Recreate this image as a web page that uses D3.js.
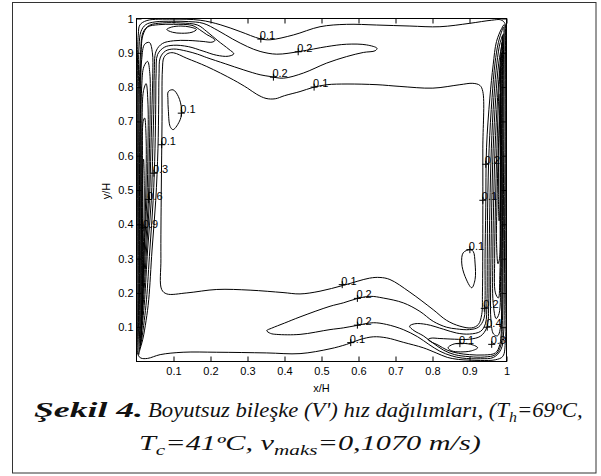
<!DOCTYPE html>
<html><head><meta charset="utf-8">
<script src="https://cdn.jsdelivr.net/npm/d3@7"></script>
<style>body{margin:0;background:#fff}svg{display:block}</style>
</head><body>
<svg id="c" width="601" height="476"></svg>
<script>
// ---------- tick labels ----------
const xTicks = [0.1,0.2,0.3,0.4,0.5,0.6,0.7,0.8,0.9,1];
const yTicks = [0.1,0.2,0.3,0.4,0.5,0.6,0.7,0.8,0.9,1];

// ---------- contour lines, in (x/H, y/H) ----------
const outer01 = [[0.003,0.9],[0.005,0.955],[0.009,0.981],[0.028,0.994],[0.099,0.998],[0.172,0.995],[0.226,0.982],[0.28,0.962],[0.334,0.941],[0.361,0.938],[0.424,0.952],[0.496,0.976],[0.568,0.983],[0.649,0.981],[0.739,0.978],[0.82,0.976],[0.901,0.986],[0.96,0.995],[0.985,0.996],[0.996,0.985],[0.997,0.95],[0.998,0.8],[0.998,0.5],[0.998,0.2],[0.997,0.06],[0.99,0.015],[0.97,0.005],[0.93,0.003],[0.9,0.004],[0.87,0.006],[0.84,0.012],[0.81,0.025],[0.775,0.04],[0.721,0.056],[0.676,0.069],[0.64,0.072],[0.604,0.064],[0.568,0.05],[0.523,0.037],[0.442,0.023],[0.352,0.025],[0.217,0.027],[0.126,0.027],[0.064,0.02],[0.03,0.009],[0.012,0.01],[0.004,0.02],[0.002,0.1],[0.002,0.5]];
const core01 = [[0.07,0.85],[0.074,0.886],[0.085,0.898],[0.1,0.9],[0.136,0.884],[0.19,0.86],[0.262,0.821],[0.3,0.797],[0.325,0.779],[0.35,0.767],[0.375,0.766],[0.4,0.775],[0.442,0.787],[0.477,0.799],[0.515,0.807],[0.569,0.809],[0.65,0.807],[0.712,0.802],[0.801,0.797],[0.874,0.807],[0.909,0.811],[0.928,0.805],[0.936,0.787],[0.936,0.62],[0.936,0.4],[0.935,0.2],[0.933,0.137],[0.924,0.108],[0.906,0.098],[0.874,0.103],[0.838,0.12],[0.802,0.151],[0.739,0.202],[0.685,0.239],[0.658,0.245],[0.63,0.243],[0.559,0.222],[0.496,0.205],[0.442,0.197],[0.396,0.201],[0.307,0.208],[0.217,0.21],[0.136,0.2],[0.082,0.197],[0.068,0.21],[0.066,0.3],[0.067,0.5],[0.069,0.7]];
const left02 = [[0.006,0.02],[0.008,0.03],[0.017,0.065],[0.026,0.12],[0.033,0.18],[0.042,0.325],[0.052,0.47],[0.058,0.62],[0.06,0.75],[0.061,0.84],[0.064,0.885],[0.078,0.905],[0.1,0.911],[0.135,0.905],[0.165,0.896],[0.19,0.886],[0.24,0.868],[0.29,0.85],[0.334,0.836],[0.361,0.831],[0.397,0.826],[0.451,0.841],[0.514,0.87],[0.568,0.889],[0.613,0.901],[0.645,0.906],[0.65,0.913],[0.622,0.923],[0.568,0.925],[0.514,0.918],[0.442,0.904],[0.379,0.896],[0.334,0.904],[0.3,0.918],[0.26,0.94],[0.22,0.965],[0.18,0.986],[0.14,0.991],[0.1,0.992],[0.05,0.99],[0.025,0.982],[0.012,0.962],[0.007,0.92],[0.005,0.8],[0.004,0.6],[0.004,0.35],[0.004,0.12],[0.004,0.04]];
const left03 = [[0.008,0.035],[0.01,0.045],[0.014,0.065],[0.021,0.12],[0.027,0.18],[0.036,0.325],[0.045,0.47],[0.05,0.62],[0.052,0.75],[0.053,0.84],[0.057,0.895],[0.075,0.916],[0.1,0.922],[0.14,0.918],[0.18,0.905],[0.216,0.893],[0.248,0.89],[0.263,0.897],[0.25,0.91],[0.22,0.935],[0.19,0.962],[0.165,0.981],[0.12,0.987],[0.07,0.987],[0.035,0.98],[0.018,0.96],[0.011,0.9],[0.007,0.75],[0.006,0.5],[0.006,0.25],[0.006,0.08]];
const left04 = [[0.01,0.045],[0.012,0.065],[0.017,0.12],[0.022,0.18],[0.03,0.325],[0.04,0.47],[0.044,0.62],[0.047,0.75],[0.048,0.84],[0.053,0.905],[0.07,0.927],[0.1,0.935],[0.14,0.936],[0.18,0.933],[0.204,0.931],[0.212,0.936],[0.205,0.944],[0.19,0.953],[0.17,0.968],[0.15,0.98],[0.1,0.983],[0.06,0.982],[0.03,0.975],[0.017,0.95],[0.012,0.88],[0.009,0.7],[0.008,0.45],[0.008,0.2],[0.008,0.08]];
const left05 = [[0.011,0.05],[0.012,0.065],[0.015,0.12],[0.019,0.18],[0.027,0.325],[0.035,0.47],[0.039,0.62],[0.042,0.75],[0.044,0.84],[0.043,0.9],[0.035,0.93],[0.022,0.925],[0.014,0.88],[0.011,0.75],[0.01,0.5],[0.01,0.25],[0.01,0.1]];
const left06 = [[0.012,0.07],[0.014,0.12],[0.017,0.18],[0.024,0.325],[0.032,0.47],[0.035,0.62],[0.037,0.75],[0.036,0.84],[0.03,0.875],[0.02,0.86],[0.014,0.8],[0.012,0.6],[0.012,0.35],[0.012,0.15]];
const left07 = [[0.013,0.1],[0.016,0.18],[0.021,0.325],[0.028,0.47],[0.031,0.62],[0.031,0.75],[0.026,0.81],[0.019,0.79],[0.015,0.7],[0.014,0.5],[0.013,0.3],[0.013,0.15]];
const left08 = [[0.015,0.14],[0.018,0.25],[0.023,0.4],[0.026,0.55],[0.026,0.65],[0.022,0.71],[0.018,0.7],[0.016,0.6],[0.015,0.45],[0.015,0.25]];
const left09 = [[0.016,0.22],[0.018,0.3],[0.02,0.4],[0.021,0.5],[0.019,0.59],[0.017,0.57],[0.0165,0.45],[0.016,0.32]];
const eyeTopLeft = [[0.082,0.968],[0.095,0.975],[0.12,0.978],[0.145,0.975],[0.162,0.968],[0.15,0.96],[0.122,0.957],[0.097,0.96]];
const loopLeft = [[0.086,0.787],[0.099,0.792],[0.113,0.773],[0.122,0.734],[0.118,0.705],[0.099,0.676],[0.091,0.685],[0.086,0.734],[0.085,0.763]];
const right02 = [[0.994,0.982],[0.987,0.971],[0.973,0.933],[0.964,0.865],[0.955,0.768],[0.946,0.623],[0.944,0.45],[0.942,0.3],[0.942,0.18],[0.939,0.125],[0.924,0.1],[0.9,0.093],[0.865,0.095],[0.838,0.1],[0.802,0.117],[0.766,0.146],[0.721,0.171],[0.667,0.185],[0.631,0.19],[0.595,0.183],[0.559,0.171],[0.523,0.161],[0.442,0.13],[0.4,0.112],[0.365,0.097],[0.352,0.09],[0.362,0.082],[0.379,0.079],[0.442,0.079],[0.523,0.093],[0.559,0.098],[0.595,0.105],[0.64,0.113],[0.676,0.108],[0.721,0.093],[0.76,0.072],[0.79,0.05],[0.82,0.03],[0.85,0.017],[0.88,0.01],[0.93,0.008],[0.965,0.012],[0.985,0.035],[0.992,0.08],[0.994,0.2],[0.995,0.45],[0.996,0.7],[0.996,0.88],[0.996,0.96]];
const right03 = [[0.992,0.975],[0.988,0.965],[0.978,0.93],[0.969,0.87],[0.961,0.77],[0.953,0.62],[0.949,0.45],[0.948,0.3],[0.947,0.17],[0.943,0.11],[0.93,0.088],[0.9,0.08],[0.865,0.083],[0.83,0.094],[0.784,0.108],[0.752,0.11],[0.738,0.103],[0.75,0.09],[0.775,0.075],[0.8,0.055],[0.83,0.033],[0.86,0.02],[0.9,0.014],[0.94,0.013],[0.97,0.02],[0.984,0.045],[0.989,0.12],[0.991,0.3],[0.992,0.55],[0.993,0.8],[0.993,0.93]];
const right04 = [[0.992,0.955],[0.983,0.93],[0.974,0.87],[0.966,0.77],[0.959,0.62],[0.955,0.45],[0.953,0.3],[0.952,0.17],[0.947,0.1],[0.93,0.074],[0.9,0.065],[0.86,0.065],[0.82,0.067],[0.796,0.068],[0.788,0.064],[0.795,0.058],[0.815,0.048],[0.84,0.033],[0.87,0.024],[0.9,0.02],[0.94,0.019],[0.97,0.025],[0.982,0.05],[0.987,0.15],[0.989,0.35],[0.99,0.6],[0.991,0.8],[0.992,0.92]];
const right05 = [[0.989,0.95],[0.988,0.93],[0.979,0.87],[0.971,0.77],[0.964,0.62],[0.96,0.45],[0.958,0.3],[0.957,0.2],[0.958,0.12],[0.965,0.08],[0.976,0.075],[0.985,0.11],[0.987,0.3],[0.988,0.55],[0.989,0.8]];
const right06 = [[0.988,0.93],[0.983,0.87],[0.976,0.77],[0.969,0.62],[0.965,0.45],[0.963,0.3],[0.964,0.17],[0.972,0.125],[0.98,0.14],[0.984,0.25],[0.986,0.5],[0.987,0.75],[0.988,0.88]];
const right07 = [[0.986,0.9],[0.98,0.8],[0.974,0.62],[0.97,0.45],[0.968,0.3],[0.97,0.2],[0.978,0.185],[0.982,0.25],[0.984,0.5],[0.985,0.75]];
const right08 = [[0.984,0.86],[0.983,0.77],[0.978,0.62],[0.974,0.45],[0.973,0.35],[0.977,0.285],[0.981,0.3],[0.983,0.45],[0.984,0.65],[0.984,0.8]];
const right09 = [[0.983,0.78],[0.981,0.7],[0.979,0.6],[0.978,0.5],[0.98,0.41],[0.982,0.43],[0.983,0.55],[0.9835,0.68]];
const eyeBottomRight = [[0.842,0.04],[0.855,0.05],[0.88,0.053],[0.91,0.048],[0.922,0.04],[0.905,0.031],[0.875,0.028],[0.852,0.031]];
const loopRight = [[0.901,0.326],[0.883,0.317],[0.879,0.287],[0.888,0.248],[0.906,0.215],[0.915,0.239],[0.915,0.287],[0.91,0.321]];

const contourLines = [outer01, core01, left02, left03, left04, left05, left06, left07, left08, left09,
  eyeTopLeft, loopLeft, right02, right03, right04, right05, right06, right07, right08, right09,
  eyeBottomRight, loopRight];

// contour labels: position of the "+" marker and the level text
const labelX    = [0.336,0.437,0.370,0.480,0.121,0.068,0.047,0.032,0.020,0.944,0.936,0.901,0.556,0.597,0.597,0.579,0.940,0.948,0.874,0.960];
const labelY    = [0.940,0.903,0.829,0.800,0.724,0.632,0.549,0.472,0.390,0.575,0.470,0.326,0.224,0.184,0.106,0.055,0.155,0.100,0.052,0.050];
const labelText = ["0.1","0.2","0.2","0.1","0.1","0.1","0.3","0.6","0.9","0.2","0.1","0.1","0.1","0.2","0.2","0.1","0.2","0.4","0.1","0.3"];

// ---------- drawing ----------
const SANS = "'Liberation Sans', Arial, sans-serif";
const SERIF = "'Liberation Serif', 'Times New Roman', serif";
const svg = d3.select('#c');
const L = 136.5, R = 506.5, T = 18.5, B = 361.5;
const x = d3.scaleLinear().domain([0,1]).range([L,R]);
const y = d3.scaleLinear().domain([0,1]).range([B,T]);

svg.append('rect').attr('x',12.5).attr('y',2.5).attr('width',583.5).attr('height',470.5)
  .attr('fill','none').attr('stroke','#333').attr('stroke-width',1);

svg.append('clipPath').attr('id','pc').append('rect')
  .attr('x',L).attr('y',T).attr('width',R-L).attr('height',B-T);

const line = d3.line().x(d=>x(d[0])).y(d=>y(d[1])).curve(d3.curveCatmullRomClosed.alpha(0.5));
svg.append('g').attr('clip-path','url(#pc)')
  .selectAll('path').data(contourLines).join('path')
  .attr('d',line).attr('fill','none').attr('stroke','#000').attr('stroke-width',1);

// labels
const lg = svg.append('g');
labelText.forEach((t,i)=>{
  const cx = x(labelX[i]), cy = y(labelY[i]);
  lg.append('path').attr('d',`M${cx-3.5},${cy}H${cx+3.5}M${cx},${cy-3.5}V${cy+3.5}`)
    .attr('stroke','#000').attr('stroke-width',1);
  lg.append('text').attr('x',cx-1).attr('y',cy).text(t)
    .attr('font-family',SANS).attr('font-size',11).attr('fill','#000');
});

// axes
const fmt = d=>String(d);
const gx = svg.append('g').attr('transform',`translate(0,${B})`)
  .call(d3.axisBottom(x).tickValues(xTicks).tickSizeInner(-5).tickSizeOuter(0).tickPadding(6).tickFormat(fmt));
const gy = svg.append('g').attr('transform',`translate(${L},0)`)
  .call(d3.axisLeft(y).tickValues(yTicks).tickSizeInner(-5).tickSizeOuter(0).tickPadding(3).tickFormat(fmt));
const gt = svg.append('g').attr('transform',`translate(0,${T})`)
  .call(d3.axisTop(x).tickValues(xTicks).tickSizeInner(-5).tickSizeOuter(0).tickFormat(''));
const gr = svg.append('g').attr('transform',`translate(${R},0)`)
  .call(d3.axisRight(y).tickValues(yTicks).tickSizeInner(-5).tickSizeOuter(0).tickFormat(''));
[gx,gy,gt,gr].forEach(g=>{
  g.select('.domain').remove();
  g.selectAll('text').attr('font-family',SANS).attr('font-size',11).attr('fill','#000');
  g.selectAll('line').attr('stroke','#000');
});
svg.append('rect').attr('x',L).attr('y',T).attr('width',R-L).attr('height',B-T)
  .attr('fill','none').attr('stroke','#000').attr('stroke-width',1);

svg.append('text').attr('x',(L+R)/2).attr('y',392).attr('text-anchor','middle')
  .attr('font-family',SANS).attr('font-size',11).text('x/H');
svg.append('text').attr('transform','translate(110,191) rotate(-90)').attr('text-anchor','middle')
  .attr('font-family',SANS).attr('font-size',11).text('y/H');

// caption: each segment is fitted between the left and right edges it has in the picture
function captionSeg(parts, left, right, base, bold){
  const t = svg.append('text').attr('x',0).attr('y',0)
    .attr('font-family',SERIF).attr('font-size',20)
    .attr('font-style','italic').attr('fill','#111');
  if(bold) t.attr('font-weight','bold');
  parts.forEach(p=>{
    const s = t.append('tspan').text(p.t);
    if(p.sub) s.attr('font-size',14).attr('dy',5);
    if(p.after) s.attr('dy',-5);
  });
  const w = t.node().getComputedTextLength();
  t.attr('transform',`translate(${left},${base}) scale(${(right-left)/w},1)`);
}
captionSeg([{t:'Şekil 4.'}],34,143,417,true);
captionSeg([{t:'Boyutsuz bileşke (V\') hız dağılımları, (T'},{t:'h',sub:true},{t:'=69ºC,',after:true}],148,583,417,false);
captionSeg([{t:'T'},{t:'c',sub:true},{t:'=41ºC, v',after:true},{t:'maks',sub:true},{t:'=0,1070 m/s)',after:true}],139,481,450,false);
</script>
</body></html>
